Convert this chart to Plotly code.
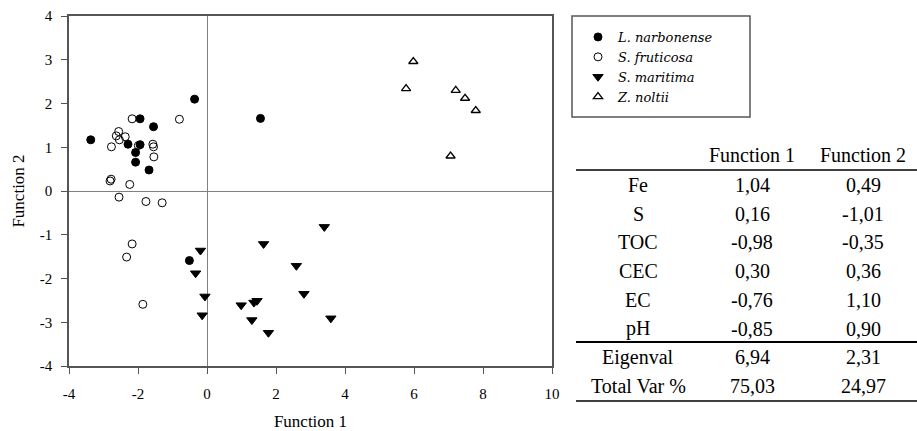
import plotly.graph_objects as go

# ---- scatter data (discriminant scores) ----
ln_x = [-3.37, -1.94, -0.36, -1.55, -2.29, -1.94, -2.07, -2.07, -1.68, 1.55, -0.51]
ln_y = [1.17, 1.65, 2.10, 1.47, 1.07, 1.06, 0.88, 0.66, 0.48, 1.66, -1.59]

sf_x = [-2.17, -0.80, -2.56, -2.63, -2.37, -2.54, -2.77, -1.99, -1.57, -1.55, -1.54,
        -2.81, -2.78, -2.24, -2.55, -1.77, -1.30, -2.17, -2.33, -1.86]
sf_y = [1.65, 1.64, 1.36, 1.26, 1.24, 1.17, 1.01, 1.04, 1.07, 1.01, 0.78,
        0.23, 0.27, 0.15, -0.14, -0.24, -0.27, -1.21, -1.51, -2.59]

sm_x = [-0.19, -0.33, -0.06, -0.14, 0.99, 1.36, 1.45, 1.30, 1.78, 1.64, 2.59, 3.40, 2.81, 3.59]
sm_y = [-1.36, -1.88, -2.41, -2.84, -2.61, -2.55, -2.51, -2.95, -3.24, -1.21, -1.71, -0.82, -2.35, -2.91]

zn_x = [5.98, 5.77, 7.21, 7.48, 7.79, 7.06]
zn_y = [2.96, 2.34, 2.30, 2.12, 1.84, 0.80]

x_ticks = [-4, -2, 0, 2, 4, 6, 8, 10]
x_tick_labels = ["-4", "-2", "0", "2", "4", "6", "8", "10"]
y_ticks = [-4, -3, -2, -1, 0, 1, 2, 3, 4]
y_tick_labels = ["-4", "-3", "-2", "-1", "0", "1", "2", "3", "4"]

# ---- table data ----
table_header = ["Function 1", "Function 2"]
table_rows = ["Fe", "S", "TOC", "CEC", "EC", "pH", "Eigenval", "Total Var %"]
table_f1 = [1.04, 0.16, -0.98, 0.30, -0.76, -0.85, 6.94, 75.03]
table_f2 = [0.49, -1.01, -0.35, 0.36, 1.10, 0.90, 2.31, 24.97]

W, H = 917, 431
L, R, T, B = 69, 552, 16, 366
pw, ph = R - L, B - T


def px(x):
    return (x - L) / pw


def py(y):
    return 1 - (y - T) / ph


SERIF = "Liberation Serif"
LEG_FONT = "DejaVu Serif"

fig = go.Figure()
fig.add_trace(go.Scatter(x=ln_x, y=ln_y, mode="markers", name="L. narbonense",
                         marker=dict(symbol="circle", size=8, color="black",
                                     line=dict(color="black", width=1))))
fig.add_trace(go.Scatter(x=sf_x, y=sf_y, mode="markers", name="S. fruticosa",
                         marker=dict(symbol="circle-open", size=8, color="black",
                                     line=dict(color="black", width=1))))
fig.add_trace(go.Scatter(x=sm_x, y=sm_y, mode="markers", name="S. maritima",
                         marker=dict(symbol="triangle-down", size=9, color="black",
                                     line=dict(color="black", width=1))))
fig.add_trace(go.Scatter(x=zn_x, y=zn_y, mode="markers", name="Z. noltii",
                         marker=dict(symbol="triangle-up-open", size=8, color="black",
                                     line=dict(color="black", width=1.3))))

axis_common = dict(showgrid=False, zeroline=True, zerolinecolor="#808080", zerolinewidth=1,
                   showline=True, linecolor="#555555", linewidth=1.5, mirror=True,
                   ticks="outside", ticklen=6, tickcolor="#555555", tickwidth=1.2,
                   tickfont=dict(family=SERIF, size=15, color="black"))

fig.update_xaxes(range=[-4, 10], tickvals=x_ticks, ticktext=x_tick_labels,
                 ticklabelstandoff=7,
                 title=dict(text="Function 1", font=dict(family=SERIF, size=17, color="black"),
                            standoff=16), **axis_common)
fig.update_yaxes(range=[-4, 4], tickvals=y_ticks, ticktext=y_tick_labels,
                 ticklabelstandoff=6,
                 title=dict(text="Function 2", font=dict(family=SERIF, size=17, color="black"),
                            standoff=11), **axis_common)

annotations = []
shapes = []

# table header
col_x = [638, 752, 863]
header_y = 155
for cx, h in zip(col_x[1:], table_header):
    annotations.append(dict(x=px(cx), y=py(header_y), xref="paper", yref="paper",
                            text=h, showarrow=False, xanchor="center", yanchor="middle",
                            font=dict(family=SERIF, size=20, color="black")))
row_y0, row_step = 185, 28.7


def fmt(v):
    return f"{v:.2f}".replace(".", ",")


for i, (lab, a, b) in enumerate(zip(table_rows, table_f1, table_f2)):
    yy = row_y0 + i * row_step
    for cx, txt in zip(col_x, [lab, fmt(a), fmt(b)]):
        annotations.append(dict(x=px(cx), y=py(yy), xref="paper", yref="paper",
                                text=txt, showarrow=False, xanchor="center", yanchor="middle",
                                font=dict(family=SERIF, size=20, color="black")))

for ly, lw in [(170, 1.5), (342, 2), (401, 1.5)]:
    shapes.append(dict(type="line", xref="paper", yref="paper",
                       x0=px(576), x1=px(917), y0=py(ly), y1=py(ly),
                       line=dict(color="black", width=lw)))

# legend frame
shapes.append(dict(type="rect", xref="paper", yref="paper",
                   x0=px(572), x1=px(750), y0=py(16), y1=py(117),
                   line=dict(color="#555555", width=1.5), fillcolor="rgba(0,0,0,0)"))

fig.update_layout(
    width=W, height=H,
    margin=dict(l=L, r=W - R, t=T, b=H - B, autoexpand=False),
    plot_bgcolor="white", paper_bgcolor="white",
    showlegend=True,
    legend=dict(x=px(578), y=py(22), xanchor="left", yanchor="top",
                borderwidth=0, bgcolor="rgba(0,0,0,0)",
                font=dict(family=LEG_FONT, size=13, color="black", style="italic"),
                tracegroupgap=0, itemwidth=30),
    annotations=annotations, shapes=shapes,
)

fig.write_html("out.html", config={"displayModeBar": False},
               post_script="document.body.style.margin='0';document.body.style.padding='0';")
